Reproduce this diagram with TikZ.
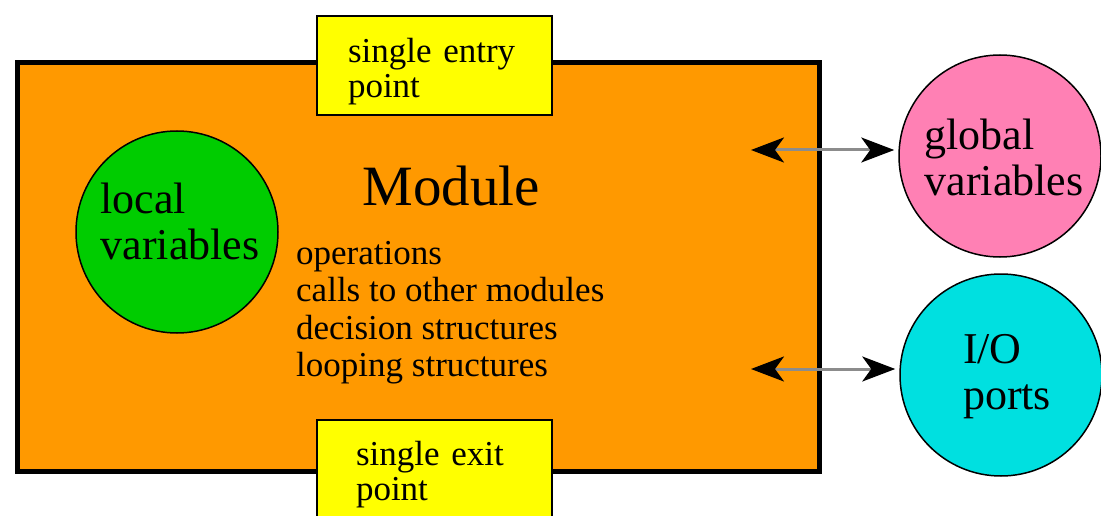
\documentclass[tikz,border=0pt]{standalone}
\usepackage{fontspec}
\setmainfont{Liberation Serif}
\usetikzlibrary{arrows.meta}
\definecolor{Modorange}{RGB}{255,153,0}
\definecolor{Pointyellow}{RGB}{255,255,0}
\definecolor{Localgreen}{RGB}{0,204,0}
\definecolor{Globalpink}{RGB}{255,128,180}
\definecolor{Portcyan}{RGB}{0,224,224}

\begin{document}
\begin{tikzpicture}[x=1pt,y=-1pt,
  modbox/.style={draw=black, line width=5pt, fill=Modorange, minimum width=802pt, minimum height=408pt},
  pointbox/.style={draw=black, line width=1.8pt, fill=Pointyellow, minimum width=235pt, inner sep=0pt, align=left, font=\fontsize{35}{35}\selectfont},
  blob/.style={circle, draw=black, line width=1.5pt, minimum size=202pt, inner sep=0pt},
  blobtext/.style={align=left, inner sep=0pt, font=\fontsize{44}{46}\selectfont},
  biarrow/.style={{Stealth[length=33pt,width=25pt,inset=9pt,black]}-{Stealth[length=33pt,width=25pt,inset=9pt,black]}, line width=3pt, black!45}]
\useasboundingbox (0,0) rectangle (1101,516);
% module body
\node[modbox] (mod) at (418,267) {};
\node[font=\fontsize{57}{57}\selectfont, anchor=base] (title) at (451,205) {Module};
\node[anchor=north west, inner sep=0pt, align=left, font=\fontsize{35}{37.5}\selectfont] (ops) at (296,241)
  {operations\\calls to other modules\\decision structures\\looping structures};
% entry and exit
\node[pointbox, minimum height=99pt, text width=173pt, text height=36pt] (entry) at (434.5,65.5) {single entry\\point};
\node[pointbox, minimum height=103pt, text width=157pt, text height=30pt] (exit) at (434.5,471.5) {single exit\\point};
% variables and ports
\node[blob, fill=Localgreen] (loc) at (177,232) {};
\node[blobtext] (loctext) at (180,221) {local\\variables};
\node[blob, fill=Globalpink] (glob) at (1000,156) {};
\node[blobtext] (globtext) at (1004,157) {global\\variables};
\node[blob, fill=Portcyan] (port) at (1001,375) {};
\node[blobtext] (porttext) at (1007,377) {I/O\\ports};
% connections
\coordinate (gin) at (751,150);
\coordinate (pin) at (751,369);
\draw[biarrow, shorten >=4pt] (gin) -- (gin -| glob.west);
\draw[biarrow, shorten >=4pt] (pin) -- (pin -| port.west);
\end{tikzpicture}
\end{document}
